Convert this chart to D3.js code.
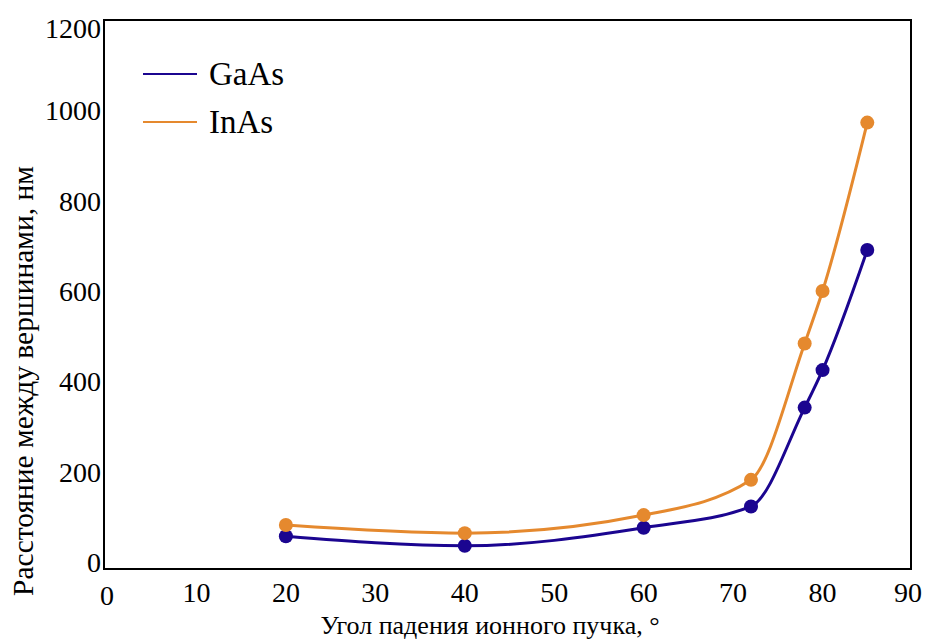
<!DOCTYPE html>
<html><head><meta charset="utf-8">
<script src="https://cdn.jsdelivr.net/npm/d3@7"></script>
<style>html,body{margin:0;padding:0;background:#fff;}text{font-family:"Liberation Serif","Times New Roman","DejaVu Serif",serif;}</style>
</head><body>
<svg id="chart" width="928" height="641"></svg>
<script>
const angles = [20, 40, 60, 72, 78, 80, 85];
const gaas = [58, 37, 77, 124, 343, 426, 692];
const inas = [83, 65, 105, 183, 485, 601, 974];
const seriesNames = ["GaAs", "InAs"];
const seriesColors = ["#1b0590", "#e5892e"];
const xTicks = [0,10,20,30,40,50,60,70,80,90];
const yTicks = [0,200,400,600,800,1000,1200];
const xTitle = "Угол падения ионного пучка, °";
const yTitle = "Расстояние между вершинами, нм";

const FONT = "Liberation Serif, Times New Roman, serif";
const svg = d3.select("#chart");
const x = d3.scaleLinear().domain([0,90]).range([107,912]);
const y = d3.scaleLinear().domain([0,1200]).range([562.5,20.5]);
const frame = {left:104, right:911, top:20, bottom:569};

svg.append("rect").attr("x",frame.left).attr("y",frame.top)
  .attr("width",frame.right-frame.left).attr("height",frame.bottom-frame.top)
  .attr("fill","none").attr("stroke","#000").attr("stroke-width",2);

// Y tick labels
svg.append("g").selectAll("text").data(yTicks).join("text")
  .attr("font-family",FONT)
  .attr("x",101).attr("y",d=>y(d)).attr("text-anchor","end")
  .attr("dy",d=> d===1200 ? "17" : "9.5")
  .attr("font-size",28).attr("fill","#000").text(d=>d);

// X tick labels
svg.append("g").selectAll("text").data(xTicks).join("text")
  .attr("font-family",FONT)
  .attr("x",d=> d===90 ? x(d)-4 : x(d)).attr("y",d=> d===0 ? 605 : 602)
  .attr("text-anchor","middle").attr("font-size",28).attr("fill","#000").text(d=>d);

// Axis titles
svg.append("text").attr("font-family",FONT).attr("x",490).attr("y",634).attr("text-anchor","middle")
  .attr("font-size",26).attr("fill","#000").text(xTitle);
svg.append("text").attr("font-family",FONT).attr("transform","translate(33,381) rotate(-90)").attr("text-anchor","middle")
  .attr("font-size",29.5).attr("fill","#000").text(yTitle);

const line = d3.line().curve(d3.curveMonotoneX).x(d=>x(d[0])).y(d=>y(d[1]));
[gaas, inas].forEach((vals,i)=>{
  const pts = angles.map((a,j)=>[a, vals[j]]);
  const g = svg.append("g");
  g.append("path").attr("d",line(pts)).attr("fill","none")
    .attr("stroke",seriesColors[i]).attr("stroke-width",3);
  g.selectAll("circle").data(pts).join("circle")
    .attr("cx",d=>x(d[0])).attr("cy",d=>y(d[1])).attr("r",7)
    .attr("fill",seriesColors[i]);
});

// Legend
const leg = svg.append("g");
seriesNames.forEach((n,i)=>{
  const ly = 74 + i*48;
  leg.append("line").attr("x1",143).attr("x2",197).attr("y1",ly).attr("y2",ly)
    .attr("stroke",seriesColors[i]).attr("stroke-width",2);
  leg.append("text").attr("font-family",FONT).attr("x",209).attr("y",ly+11).attr("font-size",33).attr("fill","#000").text(n);
});
</script>
</body></html>
